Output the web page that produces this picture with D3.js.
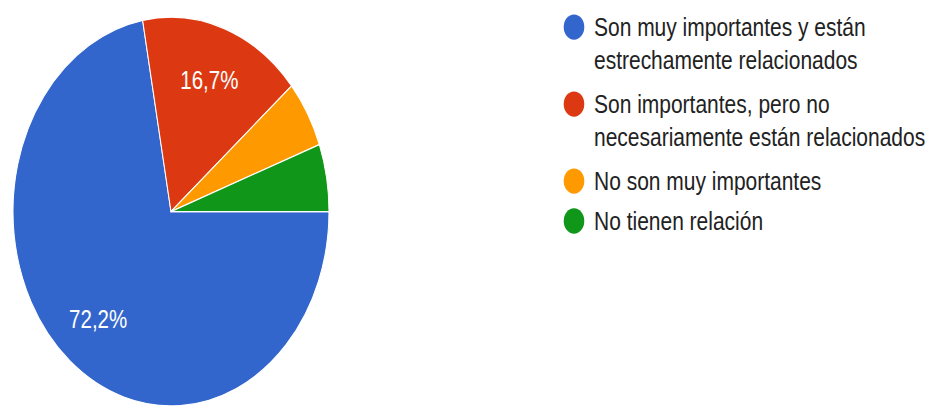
<!DOCTYPE html>
<html>
<head>
<meta charset="utf-8">
<script src="https://cdn.jsdelivr.net/npm/d3@7"></script>
<style>
  html, body { margin: 0; padding: 0; background: #fff; }
  svg { display: block; }
</style>
</head>
<body>
<svg id="chart" width="939" height="406"></svg>
<script>
const categories = [
  ["Son muy importantes y están", "estrechamente relacionados"],
  ["Son importantes, pero no", "necesariamente están relacionados"],
  ["No son muy importantes"],
  ["No tienen relación"]
];
const values = [72.2, 16.7, 5.6, 5.6];
const percentLabels = ["72,2%", "16,7%", "", ""];
const colors = ["#3366cc", "#dc3912", "#ff9900", "#109618"];

const W = 939, H = 406;
const k = 1.23;           // vertical stretch of the picture
const cx = 171, cy = 172, r = 158;

const svg = d3.select("#chart");
const g = svg.append("g").attr("transform", `scale(1,${k})`);

const pie = d3.pie().sort(null).value(d => d)
  .startAngle(Math.PI / 2).endAngle(Math.PI / 2 + 2 * Math.PI);
const arcs = pie(values);
const arc = d3.arc().innerRadius(0).outerRadius(r);
const labelArc = d3.arc().innerRadius(r * 0.72).outerRadius(r * 0.72);

const pieG = g.append("g").attr("transform", `translate(${cx},${cy})`);
pieG.selectAll("path").data(arcs).join("path")
  .attr("d", arc)
  .attr("fill", (d, i) => colors[i])
  .attr("stroke", "#fff")
  .attr("stroke-width", 1);

pieG.selectAll("text").data(arcs).join("text")
  .attr("transform", d => { const c = labelArc.centroid(d); return `translate(${c[0]},${c[1]})`; })
  .attr("text-anchor", "middle")
  .attr("dy", "0.36em")
  .attr("font-family", "Arial, 'Liberation Sans', sans-serif")
  .attr("font-size", 20.5)
  .attr("fill", "#fff")
  .text((d, i) => percentLabels[i]);

// Legend
const legX = 574, textX = 594;
const lineStep = 26.4;
let y = 22;
const legG = g.append("g");
categories.forEach((lines, i) => {
  legG.append("circle")
    .attr("cx", legX).attr("cy", y).attr("r", 10.3)
    .attr("fill", colors[i]);
  const t = legG.append("text")
    .attr("font-family", "Arial, 'Liberation Sans', sans-serif")
    .attr("font-size", 21)
    .attr("fill", "#222");
  lines.forEach((ln, j) => {
    t.append("tspan").attr("x", textX).attr("y", y + 7.6 + j * lineStep).text(ln);
  });
  y += lines.length > 1 ? 62.6 : 32.5;
});
</script>
</body>
</html>
